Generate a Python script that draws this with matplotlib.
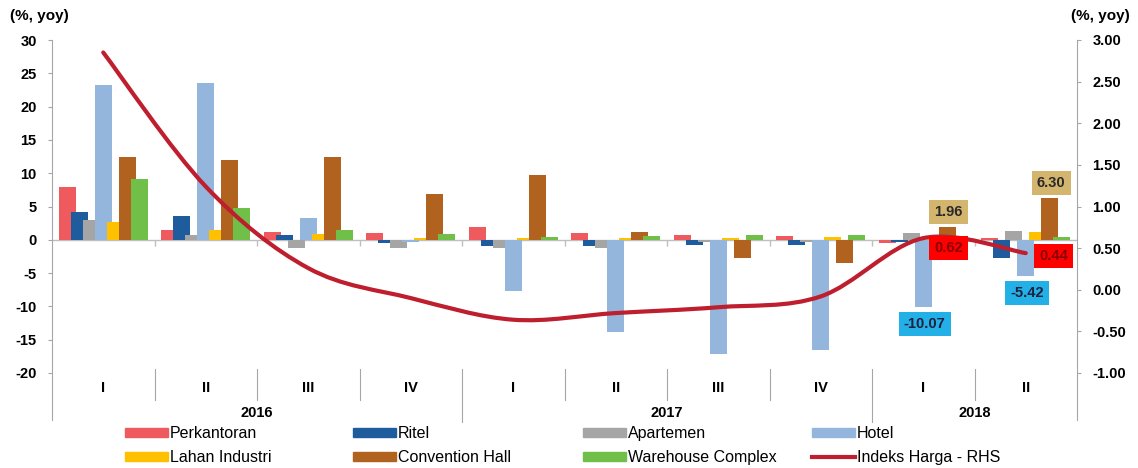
import numpy as np
import matplotlib
matplotlib.use("Agg")
import matplotlib.pyplot as plt
from matplotlib.path import Path
from matplotlib.patches import PathPatch, Patch
from matplotlib.lines import Line2D
import matplotlib.transforms as mtrans

plt.rcParams['font.family'] = ['Liberation Sans', 'DejaVu Sans']
plt.rcParams['axes.unicode_minus'] = False

# data
quarters = ['I', 'II', 'III', 'IV', 'I', 'II', 'III', 'IV', 'I', 'II']
years = ['2016', '2017', '2018']
year_centres = [1.5, 5.5, 8.5]
year_breaks = [3.5, 7.5]

perkantoran = [7.9, 1.4, 1.2, 1.0, 1.9, 1.0, 0.7, 0.6, -0.5, 0.3]
ritel = [4.1, 3.6, 0.7, -0.5, -1.0, -1.0, -0.8, -0.8, -0.4, -2.7]
apartemen = [2.9, 0.7, -1.3, -1.2, -1.2, -1.2, -0.3, -0.3, 1.0, 1.3]
hotel = [23.2, 23.6, 3.2, -0.3, -7.7, -13.9, -17.1, -16.5, -10.07, -5.42]
lahan = [2.7, 1.4, 0.9, 0.3, 0.3, 0.3, 0.3, 0.4, 0.4, 1.1]
convention = [12.5, 12.0, 12.5, 6.9, 9.7, 1.1, -2.8, -3.5, 1.96, 6.30]
warehouse = [9.1, 4.7, 1.4, 0.8, 0.4, 0.6, 0.7, 0.7, 0.2, 0.4]
indeks = [2.85, 1.24, 0.26, -0.10, -0.36, -0.28, -0.21, -0.08, 0.62, 0.44]

names = ['Perkantoran', 'Ritel', 'Apartemen', 'Hotel',
         'Lahan Industri', 'Convention Hall', 'Warehouse Complex']
series = [perkantoran, ritel, apartemen, hotel, lahan, convention, warehouse]
colors = ['#EF5A5F', '#1F5C9E', '#A5A5A5', '#95B6DC',
          '#FFC000', '#B2621F', '#70BF48']
line_color = '#BE1E2D'
grey = '#A6A6A6'

fig = plt.figure(figsize=(11.38, 4.68), dpi=100)
ax = fig.add_axes([52 / 1138, 1 - 373 / 468, 1025 / 1138, 333 / 468])
ax2 = ax.twinx()

x = np.arange(len(quarters))
step = 0.117
width = 0.165
for i, (vals, c) in enumerate(zip(series, colors)):
    ax.bar(x + (i - 3) * step, vals, width, color=c, zorder=2)

ax.set_xlim(-0.5, len(quarters) - 0.5)
ax.set_ylim(-20, 30)
ax2.set_ylim(-1, 3)

# category axis line at zero with tick marks between groups
ax.axhline(0, color='#BFBFBF', lw=1, zorder=1)
bounds = np.arange(len(quarters) - 1) + 0.5
ax.plot(bounds, np.zeros(len(bounds)), ls='none', marker=3, ms=4,
        color='#BFBFBF', zorder=1)

ax.set_xticks([])
ax.set_yticks(np.arange(-20, 31, 5))
ax.set_yticklabels([str(v) for v in np.arange(-20, 31, 5)])
ax2.set_yticks(np.arange(-1, 3.01, 0.5))
ax2.set_yticklabels(['%.2f' % v for v in np.arange(-1, 3.01, 0.5)])
for a in (ax, ax2):
    a.tick_params(axis='y', length=3, width=0.8, color=grey, pad=8,
                  labelsize=10.5)
    for lab in a.get_yticklabels():
        lab.set_fontweight('bold')
    for s in ('top', 'bottom'):
        a.spines[s].set_visible(False)
ax.spines['right'].set_visible(False)
ax2.spines['left'].set_visible(False)
ax.spines['left'].set_color(grey)
ax2.spines['right'].set_color(grey)
ax.spines['left'].set_bounds(-27.1, 30)
ax2.spines['right'].set_bounds(-1.56, 3)

# quarter / year labels and separators under the plot
trans = mtrans.blended_transform_factory(ax.transData, ax.transAxes)
for xi, q in zip(x, quarters):
    ax.text(xi, -0.045, q, transform=trans, ha='center', va='center',
            fontsize=10.5, fontweight='bold')
for xc, yr in zip(year_centres, years):
    ax.text(xc, -0.12, yr, transform=trans, ha='center', va='center',
            fontsize=10.5, fontweight='bold')
for b in bounds:
    low = -0.147 if b in year_breaks else -0.08
    ax.plot([b, b], [0.012, low], transform=trans, color=grey, lw=0.8,
            clip_on=False)

# smoothed price index line (bezier through the points)
pts = np.column_stack([x, indeks]).astype(float)
verts = [tuple(pts[0])]
codes = [Path.MOVETO]
n = len(pts)
for i in range(n - 1):
    p0 = pts[max(i - 1, 0)]
    p1 = pts[i]
    p2 = pts[i + 1]
    p3 = pts[min(i + 2, n - 1)]
    c1 = p1 + (p2 - p0) / 6
    c2 = p2 - (p3 - p1) / 6
    verts += [tuple(c1), tuple(c2), tuple(p2)]
    codes += [Path.CURVE4] * 3
ax2.add_patch(PathPatch(Path(verts, codes), fill=False, edgecolor=line_color,
                        lw=3, capstyle='round', zorder=3))

# value boxes
box_font = dict(fontsize=10.5, fontweight='bold', ha='center', va='center')
for xi in (8, 9):
    xc = xi + 2 * step
    ax.annotate('%.2f' % convention[xi], (xc, convention[xi]),
                xytext=(1, 10.5), textcoords='offset points', color='#2A2A2A',
                bbox=dict(boxstyle='square,pad=0.35', fc='#D4B56E', ec='none'),
                zorder=5, **box_font)
    ax.annotate('%.2f' % hotel[xi], (xi, hotel[xi]),
                xytext=(1, -12.5), textcoords='offset points', color='#1F1F3F',
                bbox=dict(boxstyle='square,pad=0.35', fc='#22B0E6', ec='none'),
                zorder=5, **box_font)
for xi, dx, dy in ((8, 18, -7), (9, 20, -2)):
    ax2.annotate('%.2f' % indeks[xi], (xi, indeks[xi]),
                 xytext=(dx, dy), textcoords='offset points', color='#8B0000',
                 bbox=dict(boxstyle='square,pad=0.35', fc='#FF0000', ec='none'),
                 zorder=5, **box_font)

fig.text(10 / 1138, 1 - 16 / 468, '(%, yoy)', fontsize=11, fontweight='bold',
         va='center')
fig.text(1130 / 1138, 1 - 16 / 468, '(%, yoy)', fontsize=11, fontweight='bold',
         va='center', ha='right')

# legend, one column at a time
handles = [Patch(color=c) for c in colors]
handles.append(Line2D([], [], color=line_color, lw=3))
labels = names + ['Indeks Harga - RHS']
col_x = [125, 353, 583, 812]
for k, cx in enumerate(col_x):
    fig.legend([handles[k], handles[k + 4]], [labels[k], labels[k + 4]],
               loc='upper left', bbox_to_anchor=(cx / 1138, 1 - 426 / 468),
               frameon=False, fontsize=11.5, handlelength=2.7,
               handleheight=0.5, handletextpad=0.1, labelspacing=0.55,
               borderpad=0, borderaxespad=0)

fig.savefig('out.png', dpi=100)
